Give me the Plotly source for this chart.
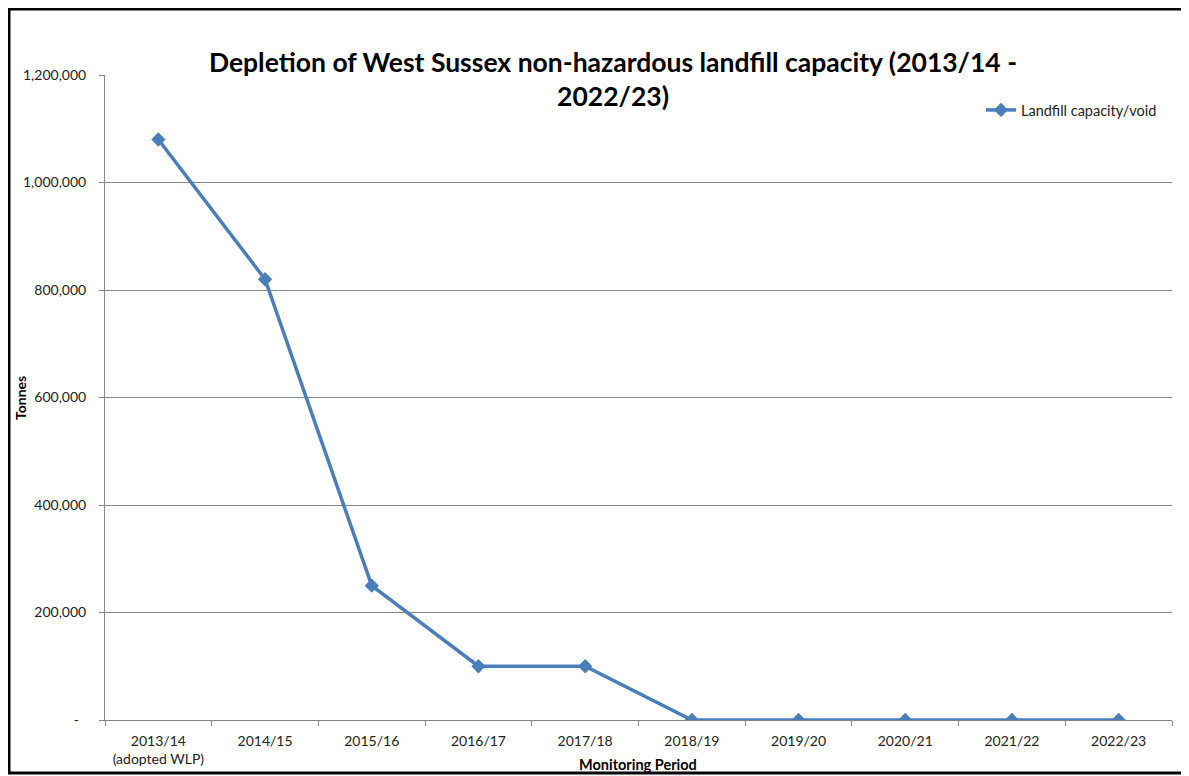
import plotly.graph_objects as go

periods = ["2013/14<br>(adopted WLP)", "2014/15", "2015/16", "2016/17", "2017/18",
           "2018/19", "2019/20", "2020/21", "2021/22", "2022/23"]
capacity = [1080000, 820000, 250000, 100000, 100000, 0, 0, 0, 0, 0]
y_ticks = [0, 200000, 400000, 600000, 800000, 1000000, 1200000]
y_tick_text = ["-\u00a0\u00a0", "200,000", "400,000", "600,000", "800,000", "1,000,000", "1,200,000"]

# page body has 8px margin; figure occupies page x 8..1189, y 8..776
OFF = 8
W, H = 1189 - OFF, 776 - OFF
L, R, T, B = 105 - OFF, 17, 75 - OFF, 56
pw, ph = W - L - R, H - T - B

def px(x):  # page x -> paper
    return (x - OFF - L) / pw

def py(y):  # page y -> paper
    return (H - B - (y - OFF)) / ph

blue = "#4A7EBB"
font_family = "Lato, Calibri, Carlito, 'Open Sans', sans-serif"

fig = go.Figure()
fig.add_trace(go.Scatter(
    x=periods, y=capacity, mode="lines+markers", name="Landfill capacity/void",
    line=dict(color=blue, width=3.5),
    marker=dict(symbol="diamond", size=11, color=blue),
))

fig.update_layout(
    width=W, height=H,
    margin=dict(l=L, r=R, t=T, b=B, autoexpand=False),
    paper_bgcolor="white", plot_bgcolor="white",
    font=dict(family=font_family, size=14, color="#222"),
    title=dict(
        text="<b>Depletion of West Sussex non-hazardous landfill capacity (2013/14 -<br>2022/23)</b>",
        x=px(613), xref="paper", xanchor="center",
        y=1 - (72 - OFF) / H, yref="container", yanchor="top",
        font=dict(size=26.5, color="black", family=font_family),
        automargin=False,
    ),
    showlegend=True,
    legend=dict(x=px(981), y=py(110), xanchor="left", yanchor="middle",
                bgcolor="rgba(0,0,0,0)", font=dict(size=14.5, color="#222")),
    xaxis=dict(
        type="category", range=[-0.5, len(periods) - 0.5], automargin=False,
        tickson="boundaries", ticks="outside", ticklen=5,
        tickcolor="#868686", showline=True, linecolor="#868686", linewidth=1,
        showgrid=False, tickfont=dict(size=14, color="#222"),
        ticklabelstandoff=8,
    ),
    yaxis=dict(
        range=[0, 1200000], tickvals=y_ticks, ticktext=y_tick_text, automargin=False,
        ticks="outside", ticklen=5, tickcolor="#868686",
        showline=True, linecolor="#868686", linewidth=1,
        showgrid=True, gridcolor="#868686", gridwidth=1, zeroline=False,
        tickfont=dict(size=14, color="#222"),
        ticklabelstandoff=10,
    ),
    annotations=[
        dict(text="<b>Tonnes</b>", textangle=-90, x=px(20), y=py(398),
             xref="paper", yref="paper", xanchor="center", yanchor="middle",
             showarrow=False, font=dict(size=14, color="black")),
        dict(text="<b>Monitoring Period</b>", x=px(638), y=py(765),
             xref="paper", yref="paper", xanchor="center", yanchor="middle",
             showarrow=False, font=dict(size=14.5, color="black")),
    ],
)

fig.add_shape(type="rect", xref="paper", yref="paper",
              x0=px(9), x1=px(1187), y0=py(773), y1=py(9),
              line=dict(color="black", width=3), fillcolor="rgba(0,0,0,0)", layer="above")

fig.write_html("out.html")
